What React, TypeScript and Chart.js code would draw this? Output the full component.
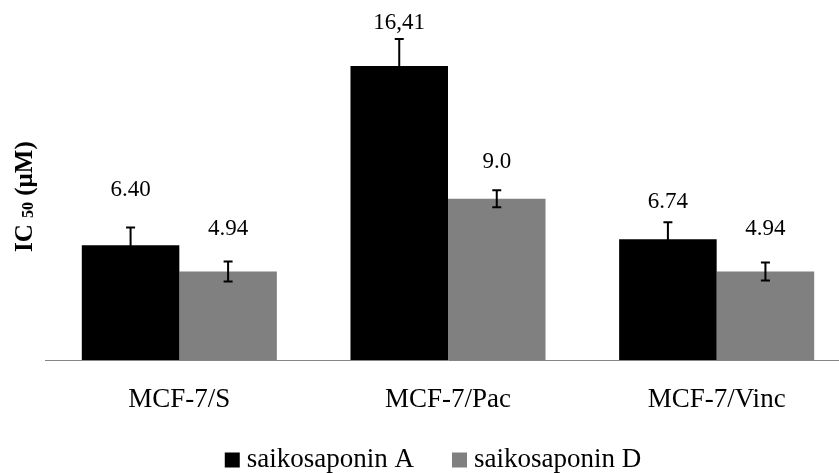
import React, { useEffect, useRef } from 'react';
import { Chart, registerables } from 'chart.js';

Chart.register(...registerables);

// ---- data ----
const categories = ['MCF-7/S', 'MCF-7/Pac', 'MCF-7/Vinc'];
const seriesNames = ['saikosaponin A', 'saikosaponin D'];
const valuesA = [6.40, 16.41, 6.74];
const valuesD = [4.94, 9.0, 4.94];
const errorsA = [1.0, 1.5, 0.95];
const errorsD = [0.56, 0.47, 0.5];
const labelTextA = ['6.40', '16,41', '6.74'];
const labelTextD = ['4.94', '9.0', '4.94'];
const yMin = 0;
const yMax = 20;

// ---- styling / placement (kept apart from data) ----
const colorA = '#000000';
const colorD = '#808080';
const labelLiftA = [37, 16, 20];
const labelLiftD = [32.5, 28, 34];
const FONT = '"Liberation Serif", "Times New Roman", serif';

const errorBarPlugin = {
  id: 'errorBarsAndLabels',
  afterDatasetsDraw(chart: any) {
    const ctx = chart.ctx;
    const y = chart.scales.y;
    const errs = [errorsA, errorsD];
    const vals = [valuesA, valuesD];
    const texts = [labelTextA, labelTextD];
    const lifts = [labelLiftA, labelLiftD];
    ctx.save();
    for (let d = 0; d < 2; d++) {
      const meta = chart.getDatasetMeta(d);
      meta.data.forEach((bar: any, i: number) => {
        const v = vals[d][i];
        const e = errs[d][i];
        const top = y.getPixelForValue(v + e);
        const bot = y.getPixelForValue(v - e);
        const x = bar.x;
        const cap = 4.5;
        ctx.strokeStyle = '#000';
        ctx.lineWidth = 2;
        ctx.beginPath();
        ctx.moveTo(x, top);
        ctx.lineTo(x, bot);
        ctx.moveTo(x - cap, top);
        ctx.lineTo(x + cap, top);
        ctx.moveTo(x - cap, bot);
        ctx.lineTo(x + cap, bot);
        ctx.stroke();
        ctx.fillStyle = '#000';
        ctx.font = `23px ${FONT}`;
        ctx.textAlign = 'center';
        ctx.textBaseline = 'middle';
        ctx.fillText(texts[d][i], x, top - lifts[d][i]);
      });
    }
    ctx.restore();
  },
  afterDraw(chart: any) {
    const ctx = chart.ctx;
    ctx.save();
    // y-axis title: IC50 (µM) with subscript
    ctx.translate(32, 252);
    ctx.rotate(-Math.PI / 2);
    ctx.fillStyle = '#000';
    ctx.textAlign = 'left';
    ctx.textBaseline = 'alphabetic';
    ctx.font = `bold 25px ${FONT}`;
    let cx = 0;
    ctx.fillText('IC', cx, 0);
    cx += ctx.measureText('IC ').width;
    ctx.font = `bold 16px ${FONT}`;
    ctx.fillText('50', cx, 1);
    cx += ctx.measureText('50').width;
    ctx.font = `bold 25px ${FONT}`;
    ctx.fillText(' (\u03BCM)', cx, 0);
    ctx.restore();

    // legend
    ctx.save();
    ctx.font = `27px ${FONT}`;
    ctx.textBaseline = 'alphabetic';
    ctx.textAlign = 'left';
    const box = 15;
    const gapBox = 7;
    const gapItem = 38;
    const colors = chart.data.datasets.map((ds: any) => ds.backgroundColor);
    const names = chart.data.datasets.map((ds: any) => ds.label);
    const widths = names.map((n: string) => ctx.measureText(n).width);
    let total = 0;
    widths.forEach((w: number, i: number) => {
      total += box + gapBox + w + (i < widths.length - 1 ? gapItem : 0);
    });
    let lx = 433 - total / 2;
    const baseY = 467;
    names.forEach((n: string, i: number) => {
      ctx.fillStyle = colors[i];
      ctx.fillRect(lx, baseY - 14.5, box, box);
      lx += box + gapBox;
      ctx.fillStyle = '#000';
      ctx.fillText(n, lx, baseY);
      lx += widths[i] + gapItem;
    });
    ctx.restore();
  },
};

export default function App() {
  const ref = useRef<HTMLCanvasElement | null>(null);
  useEffect(() => {
    if (!ref.current) return;
    const chart = new Chart(ref.current, {
      type: 'bar',
      data: {
        labels: categories,
        datasets: [
          {
            label: seriesNames[0],
            data: valuesA,
            backgroundColor: colorA,
            borderWidth: 0,
            barPercentage: 1,
            categoryPercentage: 0.726,
          },
          {
            label: seriesNames[1],
            data: valuesD,
            backgroundColor: colorD,
            borderWidth: 0,
            barPercentage: 1,
            categoryPercentage: 0.726,
          },
        ],
      },
      options: {
        responsive: false,
        animation: false,
        layout: { padding: { left: 45, right: 9, top: 1.6, bottom: 32.6 } },
        plugins: {
          legend: { display: false },
          tooltip: { enabled: false },
        },
        scales: {
          x: {
            grid: { display: false, drawTicks: false },
            border: { display: true, color: '#868686', width: 1 },
            ticks: {
              padding: 24,
              color: '#000',
              font: { family: FONT, size: 27 },
            },
          },
          y: { display: false, min: yMin, max: yMax },
        },
      },
      plugins: [errorBarPlugin],
    });
    return () => chart.destroy();
  }, []);
  return (
    <div
      style={{
        position: 'fixed',
        left: 0,
        top: 0,
        width: 839,
        height: 473,
        overflow: 'hidden',
        background: '#fff',
      }}
    >
      <canvas ref={ref} width={860} height={473} style={{ display: 'block' }} />
    </div>
  );
}
